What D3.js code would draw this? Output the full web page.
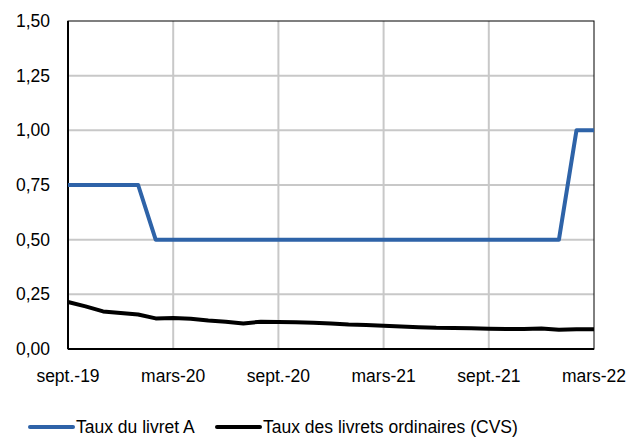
<!DOCTYPE html>
<html>
<head>
<meta charset="utf-8">
<script src="https://cdn.jsdelivr.net/npm/d3@7"></script>
<style>
  body { margin: 0; background: #fff; }
  svg text { font-family: "Liberation Sans", Arial, sans-serif; font-size: 17.5px; fill: #000; }
</style>
</head>
<body>
<script>
// months from sept-19 (index 0) to mars-22 (index 30)
var months = d3.range(0, 31);
var tickMonths = [0, 6, 12, 18, 24, 30];
var tickLabels = ['sept.-19', 'mars-20', 'sept.-20', 'mars-21', 'sept.-21', 'mars-22'];
var yTicks = [0, 0.25, 0.5, 0.75, 1, 1.25, 1.5];

var livretA = [0.75, 0.75, 0.75, 0.75, 0.75, 0.5, 0.5, 0.5, 0.5, 0.5, 0.5, 0.5, 0.5, 0.5, 0.5, 0.5,
               0.5, 0.5, 0.5, 0.5, 0.5, 0.5, 0.5, 0.5, 0.5, 0.5, 0.5, 0.5, 0.5, 1.0, 1.0];
var livretsOrd = [0.215, 0.195, 0.172, 0.165, 0.158, 0.140, 0.142, 0.138, 0.130, 0.125, 0.117,
                  0.125, 0.124, 0.122, 0.120, 0.117, 0.112, 0.110, 0.106, 0.103, 0.100, 0.097,
                  0.096, 0.095, 0.093, 0.092, 0.092, 0.094, 0.088, 0.090, 0.090];
var seriesNames = ['Taux du livret A', 'Taux des livrets ordinaires (CVS)'];
var colors = ['#2e63a8', '#000000'];

(function(){
'use strict';

var width = 635, height = 439;
var plotLeft = 68, plotRight = 594, plotTop = 21, plotBottom = 349;

var svg = d3.select('body').append('svg')
  .attr('width', width)
  .attr('height', height);

var x = d3.scaleLinear().domain([0, 30]).range([plotLeft, plotRight]);
var y = d3.scaleLinear().domain([0, 1.5]).range([plotBottom, plotTop]);

// grid
svg.append('g').selectAll('line')
  .data(yTicks.slice(1, -1))
  .enter().append('line')
  .attr('x1', plotLeft).attr('x2', plotRight)
  .attr('y1', function(d){ return y(d); })
  .attr('y2', function(d){ return y(d); })
  .attr('stroke', '#c8c8c8').attr('stroke-width', 2);

svg.append('g').selectAll('line')
  .data(tickMonths.slice(1, -1))
  .enter().append('line')
  .attr('x1', function(d){ return x(d); })
  .attr('x2', function(d){ return x(d); })
  .attr('y1', plotTop).attr('y2', plotBottom)
  .attr('stroke', '#c8c8c8').attr('stroke-width', 2);

// frame
svg.append('rect')
  .attr('x', plotLeft).attr('y', plotTop)
  .attr('width', plotRight - plotLeft).attr('height', plotBottom - plotTop)
  .attr('fill', 'none').attr('stroke', '#000').attr('stroke-width', 1);
svg.append('line')
  .attr('x1', plotLeft).attr('x2', plotLeft).attr('y1', plotTop).attr('y2', plotBottom)
  .attr('stroke', '#000').attr('stroke-width', 2);
svg.append('line')
  .attr('x1', plotLeft).attr('x2', plotRight).attr('y1', plotBottom).attr('y2', plotBottom)
  .attr('stroke', '#000').attr('stroke-width', 2);

// axes labels
var fmt = function(d){ return d3.format('.2f')(d).replace('.', ','); };
svg.append('g').selectAll('text')
  .data(yTicks)
  .enter().append('text')
  .attr('x', 50)
  .attr('y', function(d){ return y(d) + 6; })
  .attr('text-anchor', 'end')
  .text(fmt);

svg.append('g').selectAll('text')
  .data(tickMonths)
  .enter().append('text')
  .attr('x', function(d){ return x(d); })
  .attr('y', 382)
  .attr('text-anchor', 'middle')
  .text(function(d, i){ return tickLabels[i]; });

// lines
var line = d3.line()
  .x(function(d, i){ return x(months[i]); })
  .y(function(d){ return y(d); });

[livretA, livretsOrd].forEach(function(s, i){
  svg.append('path')
    .datum(s)
    .attr('d', line)
    .attr('fill', 'none')
    .attr('stroke', colors[i])
    .attr('stroke-width', 4)
    .attr('stroke-linejoin', 'round');
});

// legend
var legendX = [30, 217];
seriesNames.forEach(function(name, i){
  var g = svg.append('g');
  g.append('line')
    .attr('x1', legendX[i]).attr('x2', legendX[i] + 43)
    .attr('y1', 427).attr('y2', 427)
    .attr('stroke', colors[i]).attr('stroke-width', 4)
    .attr('stroke-linecap', 'round');
  g.append('text')
    .attr('x', legendX[i] + 46)
    .attr('y', 433)
    .text(name);
});

})();
</script>
</body>
</html>
